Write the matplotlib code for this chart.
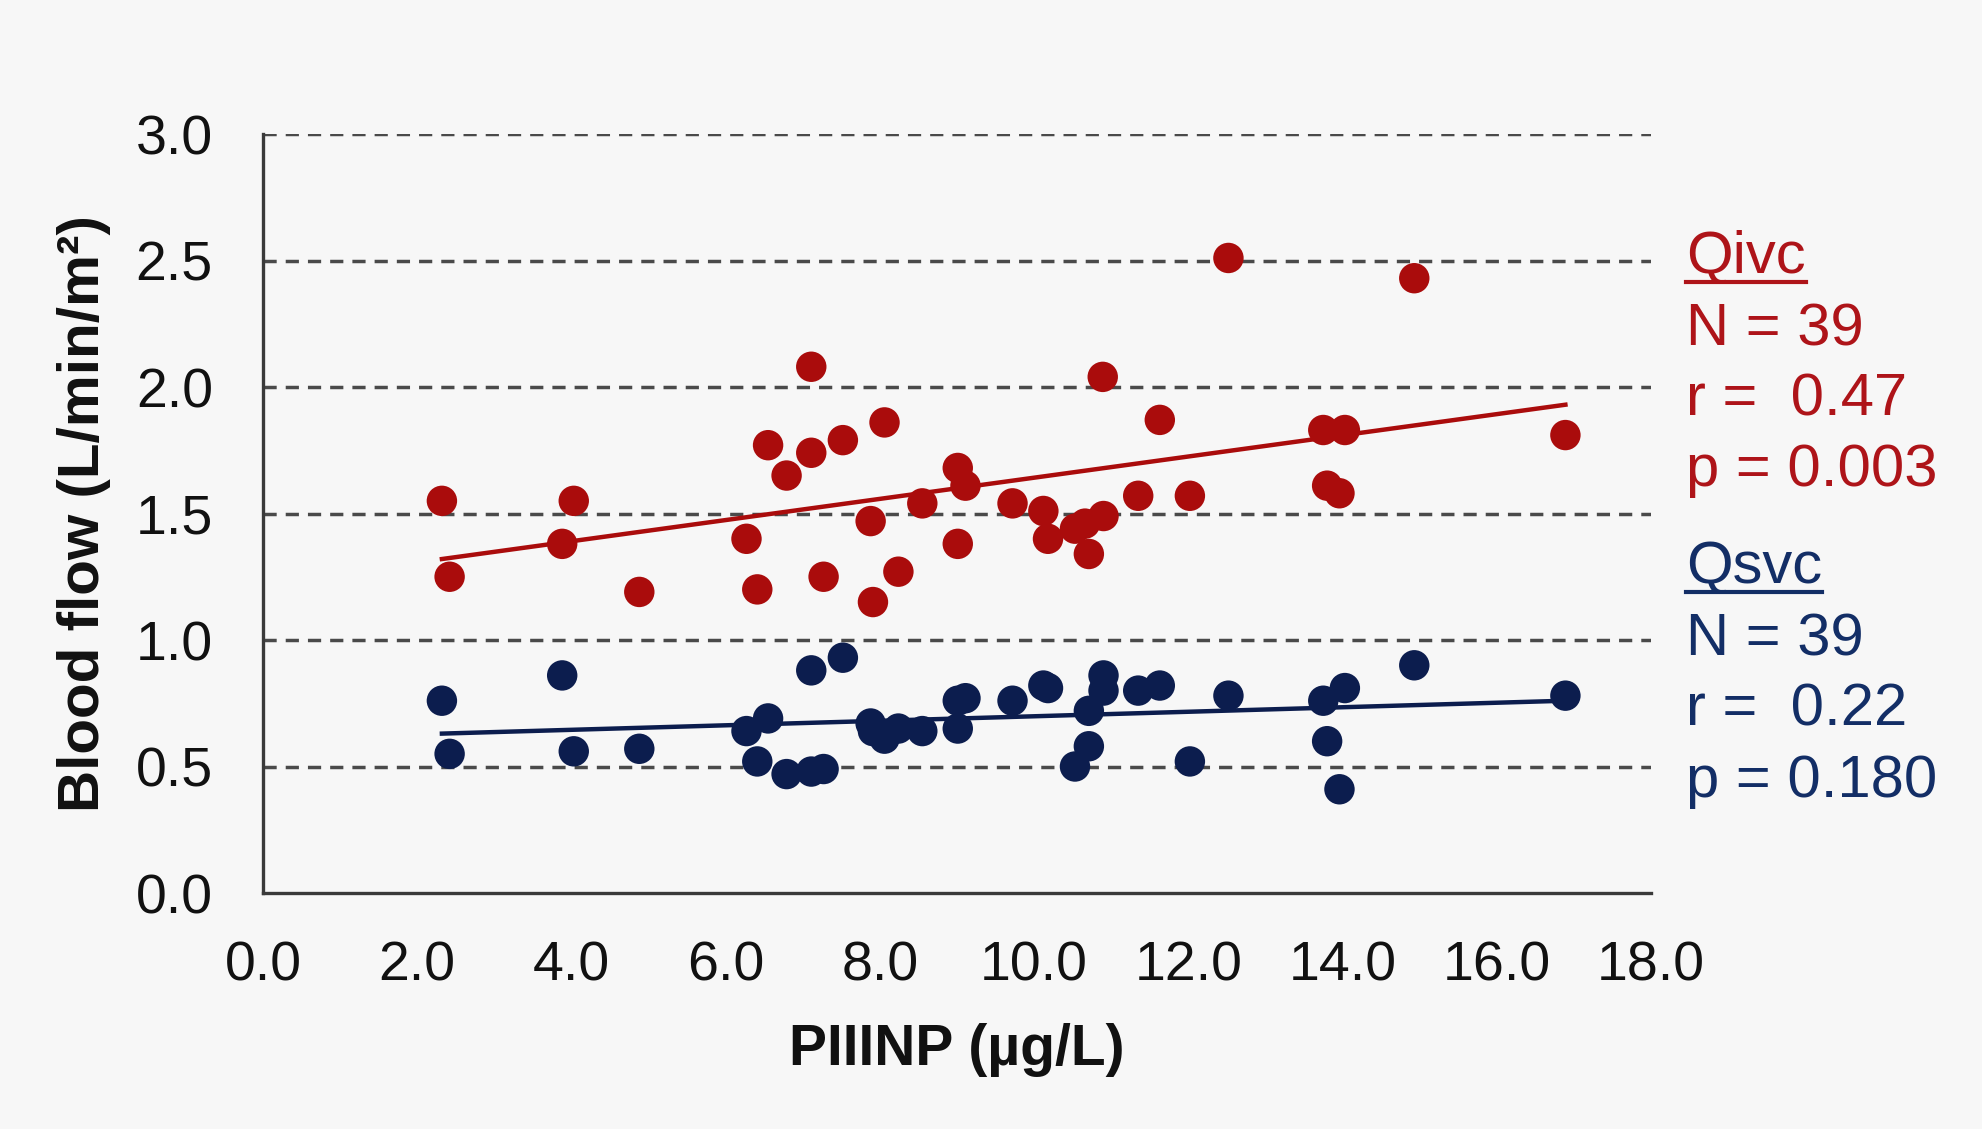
import matplotlib
matplotlib.use("Agg")
import matplotlib.pyplot as plt
from matplotlib.lines import Line2D

plt.rcParams['font.family'] = ['Liberation Sans', 'DejaVu Sans']

# ---- data ----
piiinp = [2.32, 2.42, 3.88, 4.03, 4.88, 6.27, 6.41, 6.55, 6.79, 7.11,
          7.11, 7.27, 7.52, 7.88, 7.91, 8.06, 8.24, 8.55, 9.01, 9.11,
          9.01, 9.72, 10.12, 10.18, 10.53, 10.66, 10.71, 10.90, 10.89, 11.35,
          11.63, 12.02, 12.52, 13.75, 14.03, 13.80, 13.96, 14.93, 16.89]
qivc = [1.55, 1.25, 1.38, 1.55, 1.19, 1.40, 1.20, 1.77, 1.65, 2.08,
        1.74, 1.25, 1.79, 1.47, 1.15, 1.86, 1.27, 1.54, 1.68, 1.61,
        1.38, 1.54, 1.51, 1.40, 1.44, 1.46, 1.34, 1.49, 2.04, 1.57,
        1.87, 1.57, 2.51, 1.83, 1.83, 1.61, 1.58, 2.43, 1.81]

piiinp_svc = [2.32, 2.42, 3.88, 4.03, 4.88, 6.27, 6.41, 6.55, 6.79, 7.11,
              7.11, 7.27, 7.52, 7.88, 7.91, 8.06, 8.24, 8.55, 9.01, 9.11,
              9.01, 9.72, 10.12, 10.18, 10.53, 10.71, 10.71, 10.90, 10.90, 11.35,
              11.63, 12.02, 12.52, 13.75, 13.80, 13.96, 14.03, 14.93, 16.89]
qsvc = [0.76, 0.55, 0.86, 0.56, 0.57, 0.64, 0.52, 0.69, 0.47, 0.88,
        0.48, 0.49, 0.93, 0.67, 0.64, 0.61, 0.65, 0.64, 0.76, 0.77,
        0.65, 0.76, 0.82, 0.81, 0.50, 0.58, 0.72, 0.86, 0.80, 0.80,
        0.82, 0.52, 0.78, 0.76, 0.60, 0.41, 0.81, 0.90, 0.78]

trend_x = [2.32, 16.89]
trend_ivc = [1.32, 1.93]
trend_svc = [0.63, 0.76]

x_ticks = [0, 2, 4, 6, 8, 10, 12, 14, 16, 18]
y_ticks = [0.0, 0.5, 1.0, 1.5, 2.0, 2.5, 3.0]

ivc_lines = ["Qivc", "N = 39", "r =  0.47", "p = 0.003"]
svc_lines = ["Qsvc", "N = 39", "r =  0.22", "p = 0.180"]

# ---- style ----
BG = '#F7F7F7'
RED = '#AA0C0C'
NAVY = '#0C1D4E'
RED_T = '#AE1419'
NAVY_T = '#132E66'

W, H = 1983, 1129
fig = plt.figure(figsize=(W / 100, H / 100), dpi=100, facecolor=BG)
ax = fig.add_axes([263 / W, 1 - 893 / H, (1651 - 263) / W, (893 - 134) / H])
ax.set_facecolor(BG)

for y in y_ticks[1:]:
    ax.axhline(y, color='#4a4a4a', lw=2.5, linestyle=(0, (3.8, 2.6)), zorder=1)

ax.plot(trend_x, trend_ivc, color=RED, lw=3.2, zorder=2)
ax.plot(trend_x, trend_svc, color=NAVY, lw=3.2, zorder=2)
ax.scatter(piiinp, qivc, s=480, color=RED, edgecolors='none', zorder=3)
ax.scatter(piiinp_svc, qsvc, s=480, color=NAVY, edgecolors='none', zorder=3)

ax.set_xlim(0, 18)
ax.set_ylim(0, 3)
ax.set_xticks(x_ticks)
ax.set_xticklabels([f"{v:.1f}" for v in x_ticks])
ax.set_yticks(y_ticks)
ax.set_yticklabels([f"{v:.1f}" for v in y_ticks])
ax.tick_params(axis='both', length=0, labelsize=40, colors='#111111')
ax.tick_params(axis='y', pad=36)
ax.tick_params(axis='x', pad=34)

for s in ['top', 'right']:
    ax.spines[s].set_visible(False)
for s in ['left', 'bottom']:
    ax.spines[s].set_color('#3a3a3a')
    ax.spines[s].set_linewidth(2.4)

ax.set_xlabel("PIIINP (µg/L)", fontsize=41, fontweight='bold', color='#111111')
ax.set_ylabel("Blood flow (L/min/m²)", fontsize=42, fontweight='bold', color='#111111')
ax.xaxis.label.set_va('center')
ax.yaxis.label.set_va('center')
ax_h = 893 - 134
ax_w = 1651 - 263
ax.xaxis.set_label_coords(0.5, -(1050 - 893) / ax_h)
ax.yaxis.set_label_coords(-(263 - 84) / ax_w, 0.5)

# ---- annotation text at right ----
ivc_base = [273, 345, 415, 486]
svc_base = [583, 655, 726, 797]
tx = 1686 / W
texts = []
for lines, bases, col in [(ivc_lines, ivc_base, RED_T), (svc_lines, svc_base, NAVY_T)]:
    for i, (ln, b) in enumerate(zip(lines, bases)):
        t = fig.text(tx, 1 - b / H, ln, fontsize=43, color=col, va='baseline', ha='left')
        if i == 0:
            texts.append((t, b, col))

fig.canvas.draw()
renderer = fig.canvas.get_renderer()
for t, b, col in texts:
    bb = t.get_window_extent(renderer)
    yline = 1 - (b + 9) / H
    fig.add_artist(Line2D([bb.x0 / W, bb.x1 / W], [yline, yline], transform=fig.transFigure,
                          color=col, lw=3))

fig.savefig("out.png", dpi=100, facecolor=BG)
